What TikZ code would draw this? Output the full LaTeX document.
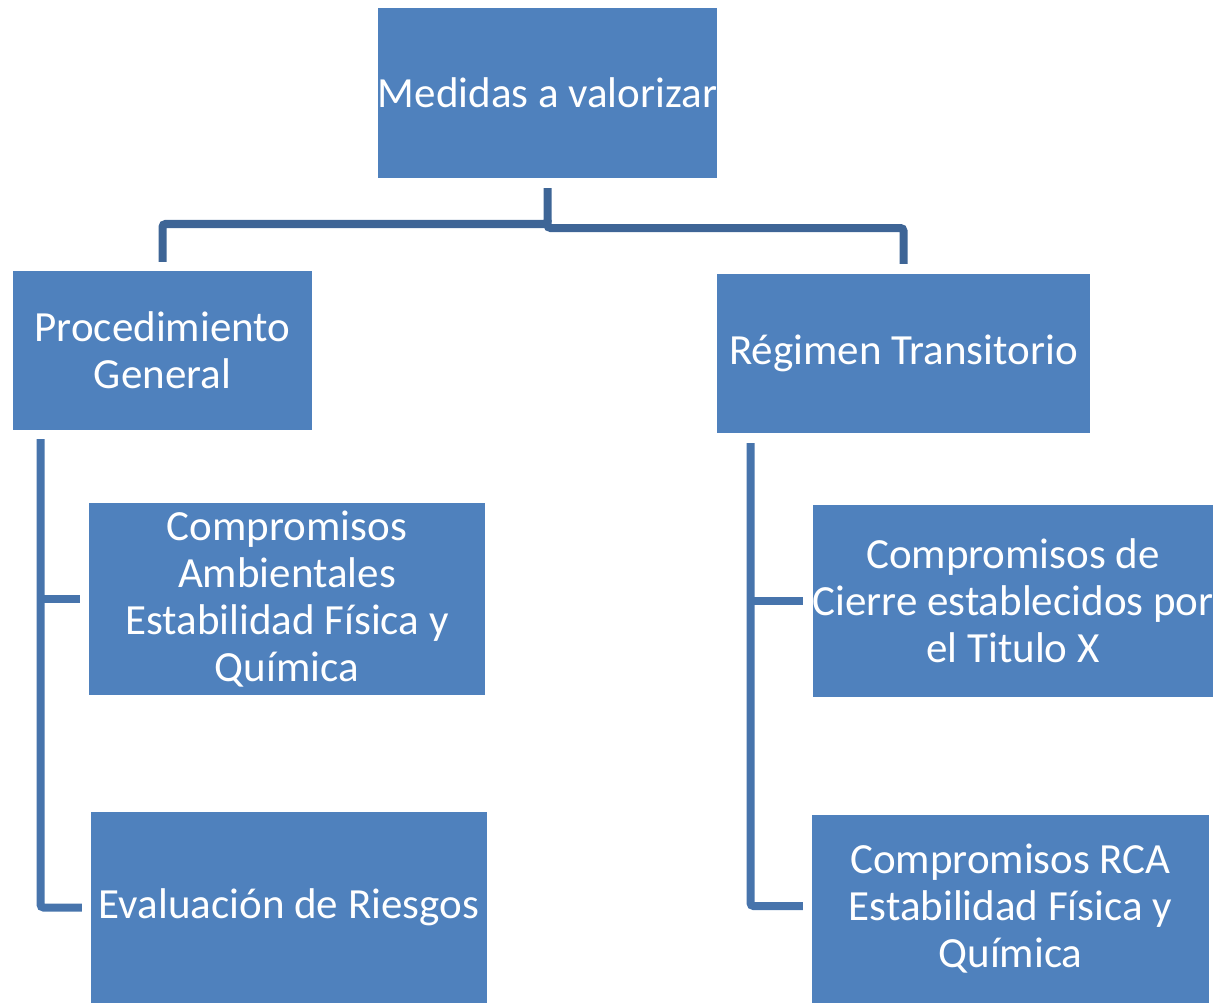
\documentclass[tikz,border=0pt]{standalone}
\usepackage{fontspec}
\setmainfont{Carlito}
\definecolor{boxblue}{HTML}{4F81BD}
\definecolor{linkdark}{HTML}{3E6596}
\definecolor{linkmid}{HTML}{4774AC}
\begin{document}
\begin{tikzpicture}[x=1pt,y=-1pt,
  box/.style={fill=boxblue,draw=none,inner sep=0pt,text=white,align=center,
    font=\fontsize{43}{47}\selectfont},
  topline/.style={draw=linkdark,line width=8pt,rounded corners=3pt},
  sideline/.style={draw=linkmid,line width=8pt,rounded corners=3pt}]
\useasboundingbox (0,0) rectangle (1215,1003);
% boxes
\node[box,minimum width=339pt,minimum height=170pt] (top) at (547.5,93) {Medidas a valorizar};
\node[box,minimum width=299pt,minimum height=159pt] (pg) at (162.5,350.5) {Procedimiento\\General};
\node[box,minimum width=373pt,minimum height=159pt] (rt) at (903.5,353.5) {Régimen Transitorio};
\node[box,minimum width=396pt,minimum height=192pt] (ca) at (287,599) {Compromisos\\Ambientales\\Estabilidad Física y\\Química};
\node[box,minimum width=396pt,minimum height=191pt] (er) at (289,907.5) {Evaluación de Riesgos};
\node[box,minimum width=396pt,minimum height=192pt] (cc) at (1013,601) {Compromisos de\\Cierre establecidos por\\el Titulo X};
\node[box,minimum width=397pt,minimum height=188pt] (rca) at (1010.5,909) {Compromisos RCA\\Estabilidad Física y\\Química};
% connector points
\coordinate (tj) at ([yshift=-10pt]top.south);
\coordinate (pgt) at ([yshift=9pt]pg.north);
\coordinate (rtt) at ([yshift=10pt]rt.north);
\coordinate (pgb) at ([xshift=-122pt,yshift=-9pt]pg.south);
\coordinate (rtb) at ([xshift=-153pt,yshift=-10pt]rt.south);
% top tree
\draw[topline] (tj) -- (tj |- 0,224) -- (pgt |- 0,224) -- (pgt);
\draw[topline] (tj |- 0,220) -- (tj |- 0,228) -- (rtt |- 0,228) -- (rtt);
% left bracket
\draw[sideline] (pgb) -- (pgb |- er.west) -- ([xshift=-9pt]er.west);
\draw[sideline] (pgb |- ca.west) -- ([xshift=-9pt]ca.west);
% right bracket
\draw[sideline] (rtb) -- (rtb |- 0,906) -- ([xshift=-9pt]rca.west |- 0,906);
\draw[sideline] (rtb |- cc.west) -- ([xshift=-9pt]cc.west);
\end{tikzpicture}
\end{document}
